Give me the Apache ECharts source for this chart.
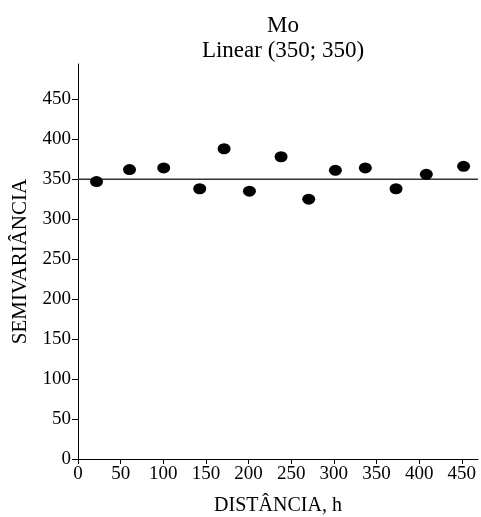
<!DOCTYPE html>
<html><head><meta charset="utf-8">
<script src="https://cdn.jsdelivr.net/npm/echarts@6/dist/echarts.min.js"></script>
<style>html,body{margin:0;padding:0;background:#fff}#c{width:481px;height:517px}</style>
</head><body><div id="c"></div>
<script>
const distances = [21.7, 60.4, 100.5, 142.7, 171.3, 201, 238.1, 270.5, 301.8, 336.9, 372.9, 408.4, 452.1];
const semivariance = [347, 362, 364, 338, 388, 335, 378, 325, 361, 364, 338, 356, 366];
const modelLine = [[0, 350], [469, 350]];
const xTicks = [0, 50, 100, 150, 200, 250, 300, 350, 400, 450];
const yTicks = [0, 50, 100, 150, 200, 250, 300, 350, 400, 450];
const titleText = 'Mo';
const subtitleText = 'Linear (350; 350)';

const FONT = '"Liberation Serif", "Times New Roman", serif';
const chart = echarts.init(document.getElementById('c'), null, {renderer: 'canvas'});
const pts = distances.map((d, i) => [d, semivariance[i]]);
chart.setOption({
  animation: false,
  backgroundColor: '#fff',
  title: [
    {text: titleText, left: 278, top: 9, textAlign: 'center',
     textStyle: {fontFamily: FONT, fontSize: 23, fontWeight: 'normal', color: '#000'}},
    {text: subtitleText, left: 278, top: 34, textAlign: 'center',
     textStyle: {fontFamily: FONT, fontSize: 23, fontWeight: 'normal', color: '#000'}}
  ],
  grid: {left: 78, top: 64, right: 3, bottom: 58, containLabel: false, outerBoundsMode: 'none'},
  xAxis: {
    type: 'value', min: 0, max: 469, interval: 50,
    name: 'DISTÂNCIA, h', nameLocation: 'middle', nameGap: 37,
    nameTextStyle: {fontFamily: FONT, fontSize: 20, color: '#000'},
    axisLine: {show: true, onZero: false, lineStyle: {color: '#000', width: 1}},
    axisTick: {show: true, length: 5, customValues: xTicks, lineStyle: {color: '#000'}},
    axisLabel: {customValues: xTicks, fontFamily: FONT, fontSize: 19, color: '#000', margin: 6},
    splitLine: {show: false}
  },
  yAxis: {
    type: 'value', min: 0, max: 494, interval: 50,
    name: 'SEMIVARIÂNCIA', nameLocation: 'middle', nameGap: 47, nameRotate: 90,
    nameTextStyle: {fontFamily: FONT, fontSize: 21, color: '#000'},
    axisLine: {show: true, onZero: false, lineStyle: {color: '#000', width: 1}},
    axisTick: {show: true, length: 6, customValues: yTicks, lineStyle: {color: '#000'}},
    axisLabel: {customValues: yTicks, fontFamily: FONT, fontSize: 19, color: '#000', margin: 7},
    splitLine: {show: false}
  },
  series: [
    {type: 'line', data: modelLine, symbol: 'none', silent: true,
     lineStyle: {color: '#333', width: 1.5}, z: 1},
    {type: 'scatter', data: pts, symbol: 'circle', symbolSize: [13, 11],
     itemStyle: {color: '#000', opacity: 1}, z: 3}
  ]
});
</script></body></html>
